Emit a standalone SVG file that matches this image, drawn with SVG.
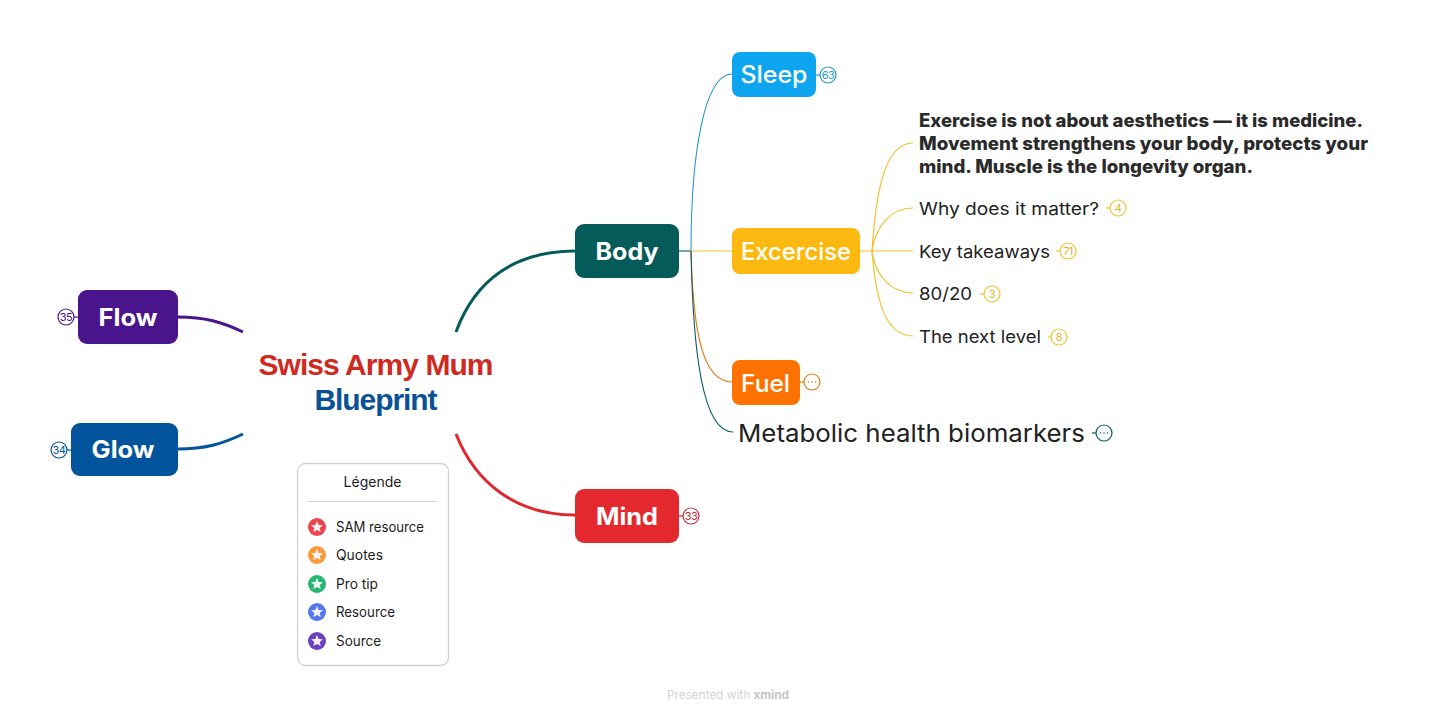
<svg xmlns="http://www.w3.org/2000/svg" width="1456" height="716" viewBox="0 0 1456 716">
<defs>
<path id="star" d="M0,-6 L1.7,-2 L5.9,-1.8 L2.7,1 L3.7,5.1 L0,2.9 L-3.7,5.1 L-2.7,1 L-5.9,-1.8 L-1.7,-2 Z" fill="#fff" opacity="0.92"/>
</defs>
<style>
text{font-family:"Inter","Noto Sans","Liberation Sans",sans-serif}
.box{stroke:none}
.nl{fill:#fff;font-size:24px;text-anchor:middle;font-weight:500}
.nb{fill:#fff;font-size:24px;text-anchor:middle;font-weight:700}
.lab{fill:#222;font-size:17.5px}
.bold{fill:#2a2a2a;font-size:18.5px;font-weight:800}
.leg{fill:#1c1c1c;font-size:14px}
.cn{fill:none;stroke-linecap:butt}
.bc{fill:#fff;stroke-width:1.2}
.bt{font-size:11px;text-anchor:middle;letter-spacing:-0.5px}
</style>
<rect width="1456" height="716" fill="#fff"/>
<g id="connectors">
<path class="cn" d="M456,332 C475,280 515,251 575,251" stroke="#045b5a" stroke-width="3"/>
<path class="cn" d="M456,434 C475,482 515,515 575,515" stroke="#e0272e" stroke-width="3"/>
<path class="cn" d="M243,332 C222,322 205,317 178,317" stroke="#4a148c" stroke-width="3"/>
<path class="cn" d="M243,434 C222,444 205,449 178,449" stroke="#02559c" stroke-width="3"/>
<path class="cn" d="M679,251 H691" stroke="#045b5a" stroke-width="1.1"/>
<path class="cn" d="M691,251 C691,150 705,74 732,74" stroke="#2a9ac9" stroke-width="1.1"/>
<path class="cn" d="M691,251 H732" stroke="#f5c22e" stroke-width="1.2"/>
<path class="cn" d="M691,251 C693,330 702,382 732,382" stroke="#e8791a" stroke-width="1.2"/>
<path class="cn" d="M691,251 C693,350 702,432 733,432" stroke="#0d5f60" stroke-width="1.1"/>
<g stroke="#f2c230" stroke-width="1.2">
<path class="cn" d="M860,251 H913"/>
<path class="cn" d="M872,251 C876,190 885,143 913,143"/>
<path class="cn" d="M872,251 C875,228 890,208 913,208"/>
<path class="cn" d="M872,251 C875,274 890,293 913,293"/>
<path class="cn" d="M872,251 C876,300 885,336 913,336"/>
</g>
</g>
<g id="central">
<text x="376" y="375" font-size="30" font-weight="700" text-anchor="middle" fill="#cf2a1f" style="font-family:'Liberation Sans',sans-serif" textLength="235">Swiss Army Mum</text>
<text x="376" y="410" font-size="30" font-weight="700" text-anchor="middle" fill="#0a5196" style="font-family:'Liberation Sans',sans-serif" textLength="123">Blueprint</text>
</g>
<g id="body"><rect class="box" x="575" y="224" width="104" height="54" rx="9" fill="#045b5a"/><text class="nb" x="627" y="260" textLength="63" lengthAdjust="spacingAndGlyphs">Body</text></g>
<g id="mind"><rect class="box" x="575" y="489" width="104" height="54" rx="9" fill="#e3282e"/><text class="nb" x="627" y="525" textLength="62" lengthAdjust="spacingAndGlyphs">Mind</text>
<path d="M679,516 H683" stroke="#c4303a" stroke-width="1.2"/><circle class="bc" cx="691" cy="516" r="8" stroke="#c4303a"/><text class="bt" x="691" y="520" fill="#c4303a">33</text></g>
<g id="flow"><rect class="box" x="78" y="290" width="100" height="54" rx="9" fill="#4a148c"/><text class="nb" x="128" y="326" textLength="59" lengthAdjust="spacingAndGlyphs">Flow</text>
<path d="M78,317 H74" stroke="#4a148c" stroke-width="1.2"/><circle class="bc" cx="66" cy="317" r="8" stroke="#4a148c"/><text class="bt" x="66" y="321" fill="#4a148c">35</text></g>
<g id="glow"><rect class="box" x="71" y="423" width="107" height="53" rx="9" fill="#02559c"/><text class="nb" x="123" y="458" textLength="63" lengthAdjust="spacingAndGlyphs">Glow</text>
<path d="M71,450 H67" stroke="#02559c" stroke-width="1.2"/><circle class="bc" cx="59" cy="450" r="8" stroke="#02559c"/><text class="bt" x="59" y="454" fill="#02559c">34</text></g>
<g id="sleep"><rect class="box" x="732" y="52" width="84" height="45" rx="8" fill="#0ea5f0"/><text class="nl" x="774" y="83" textLength="67" lengthAdjust="spacingAndGlyphs">Sleep</text>
<path d="M816,75 H820" stroke="#2a9ac9" stroke-width="1.2"/><circle class="bc" cx="828" cy="75" r="8" stroke="#2a9ac9"/><text class="bt" x="828" y="79" fill="#2a9ac9">63</text></g>
<g id="excercise"><rect class="box" x="732" y="228" width="128" height="46" rx="8" fill="#fdb90f"/><text class="nl" x="796" y="260" textLength="110" lengthAdjust="spacingAndGlyphs">Excercise</text></g>
<g id="fuel"><rect class="box" x="732" y="360" width="68" height="45" rx="8" fill="#ff7200"/><text class="nl" x="765.500" y="392" textLength="49" lengthAdjust="spacingAndGlyphs">Fuel</text>
<path d="M800,382 H804" stroke="#e8791a" stroke-width="1.2"/><circle class="bc" cx="812" cy="382" r="8" stroke="#e8791a"/><g fill="#e8791a"><circle cx="808.500" cy="382" r="0.8"/><circle cx="812" cy="382" r="0.8"/><circle cx="815.500" cy="382" r="0.8"/></g></g>
<g id="metabolic"><text x="738" y="442" font-size="24.500" fill="#222" textLength="347" lengthAdjust="spacingAndGlyphs">Metabolic health biomarkers</text>
<path d="M1092,433 H1096" stroke="#0d5f60" stroke-width="1.2"/><circle class="bc" cx="1104" cy="433" r="8" stroke="#0d5f60"/><g fill="#0d5f60"><circle cx="1100.500" cy="433" r="0.8"/><circle cx="1104" cy="433" r="0.8"/><circle cx="1107.500" cy="433" r="0.8"/></g></g>
<g id="note">
<text class="bold" x="919" y="126.500" textLength="444" lengthAdjust="spacingAndGlyphs">Exercise is not about aesthetics — it is medicine.</text>
<text class="bold" x="919" y="149.500" textLength="449" lengthAdjust="spacingAndGlyphs">Movement strengthens your body, protects your</text>
<text class="bold" x="919" y="172.500" textLength="334" lengthAdjust="spacingAndGlyphs">mind. Muscle is the longevity organ.</text>
</g>
<g id="why"><text class="lab" x="919" y="215" textLength="180" lengthAdjust="spacingAndGlyphs">Why does it matter?</text>
<path d="M1106,208 H1110" stroke="#f2c230" stroke-width="1.2"/><circle class="bc" cx="1118" cy="208" r="8" stroke="#f2c230"/><text class="bt" x="1118" y="212" fill="#e6b52a">4</text></g>
<g id="key"><text class="lab" x="919" y="258" textLength="131" lengthAdjust="spacingAndGlyphs">Key takeaways</text>
<path d="M1056,251 H1060" stroke="#f2c230" stroke-width="1.2"/><circle class="bc" cx="1068" cy="251" r="8" stroke="#f2c230"/><text class="bt" x="1068" y="255" fill="#e6b52a">71</text></g>
<g id="eighty"><text class="lab" x="919" y="300" textLength="53" lengthAdjust="spacingAndGlyphs">80/20</text>
<path d="M980,294 H984" stroke="#f2c230" stroke-width="1.2"/><circle class="bc" cx="992" cy="294" r="8" stroke="#f2c230"/><text class="bt" x="992" y="298" fill="#e6b52a">3</text></g>
<g id="next"><text class="lab" x="919" y="343" textLength="122" lengthAdjust="spacingAndGlyphs">The next level</text>
<path d="M1048,337 H1051" stroke="#f2c230" stroke-width="1.2"/><circle class="bc" cx="1059" cy="337" r="8" stroke="#f2c230"/><text class="bt" x="1059" y="341" fill="#e6b52a">8</text></g>
<g id="legend">
<rect x="297.500" y="463.500" width="151" height="202" rx="8" fill="#fff" stroke="#d2d2d2" stroke-width="1.3"/>
<text class="leg" x="372.500" y="487" text-anchor="middle">Légende</text>
<path d="M308,501.500 H438" stroke="#d6d6d6" stroke-width="1"/>
<circle cx="317" cy="527" r="9" fill="#f0444c"/><use href="#star" x="317" y="527"/><text class="leg" x="336" y="532" textLength="88" lengthAdjust="spacingAndGlyphs">SAM resource</text>
<circle cx="317" cy="555" r="9" fill="#f99a3c"/><use href="#star" x="317" y="555"/><text class="leg" x="336" y="560" textLength="47" lengthAdjust="spacingAndGlyphs">Quotes</text>
<circle cx="317" cy="584" r="9" fill="#27b673"/><use href="#star" x="317" y="584"/><text class="leg" x="336" y="589" textLength="42" lengthAdjust="spacingAndGlyphs">Pro tip</text>
<circle cx="317" cy="612" r="9" fill="#5577ee"/><use href="#star" x="317" y="612"/><text class="leg" x="336" y="617" textLength="59" lengthAdjust="spacingAndGlyphs">Resource</text>
<circle cx="317" cy="641" r="9" fill="#6a3fc0"/><use href="#star" x="317" y="641"/><text class="leg" x="336" y="646" textLength="45" lengthAdjust="spacingAndGlyphs">Source</text>
</g>
<g id="footer"><text x="667" y="699" font-size="11.500" fill="#d4d4d4" textLength="122" lengthAdjust="spacingAndGlyphs">Presented with <tspan font-weight="700" fill="#c6c6c6">xmind</tspan></text></g>
</svg>
